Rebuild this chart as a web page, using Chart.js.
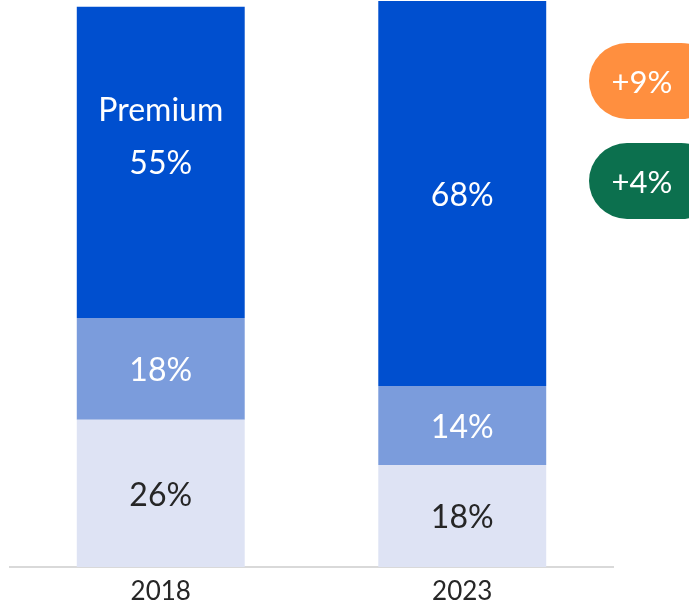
<!DOCTYPE html>
<html>
<head>
<meta charset="utf-8">
<script src="https://cdn.jsdelivr.net/npm/chart.js@4/dist/chart.umd.min.js"></script>
<style>
  html, body { margin: 0; padding: 0; background: #fff; }
  #wrap { width: 689px; height: 607px; position: relative; }
</style>
</head>
<body>
<div id="wrap"><canvas id="chart"></canvas></div>
<script>
// Dados
const years = ['2018', '2023'];
const baseShare = [26, 18];
const midShare = [18, 14];
const premiumShare = [55, 68];
const premiumLabel = 'Premium';
const badgeTexts = ['+9%', '+4%'];
const badgeColors = ['#FF8F3F', '#0C704E'];

// Plugin para rótulos dentro das barras
const segmentLabels = {
    id: 'segmentLabels',
    afterDatasetsDraw(chart) {
        const ctx = chart.ctx;
        ctx.save();
        ctx.font = '32px Lato';
        ctx.textAlign = 'center';
        ctx.textBaseline = 'middle';
        chart.data.datasets.forEach((ds, i) => {
            const meta = chart.getDatasetMeta(i);
            meta.data.forEach((bar, j) => {
                const y = (bar.y + bar.base) / 2;
                ctx.fillStyle = ds.labelColor;
                if (i === 2 && j === 0) {
                    ctx.fillText(premiumLabel, bar.x, y - 52);
                    ctx.fillText(ds.data[j] + '%', bar.x, y + 1);
                } else {
                    ctx.fillText(ds.data[j] + '%', bar.x, y + 2);
                }
            });
        });
        ctx.restore();
    }
};

// Plugin para os selos de variação
const badges = {
    id: 'badges',
    afterDraw(chart) {
        const ctx = chart.ctx;
        const tops = [43, 143];
        ctx.save();
        badgeTexts.forEach((txt, i) => {
            ctx.fillStyle = badgeColors[i];
            ctx.beginPath();
            ctx.roundRect(589, tops[i], 130, 76, 38);
            ctx.fill();
            ctx.fillStyle = '#fff';
            ctx.font = '31px Lato';
            ctx.textAlign = 'center';
            ctx.textBaseline = 'middle';
            ctx.fillText(txt, 642, tops[i] + 40);
        });
        ctx.restore();
    }
};

new Chart(document.getElementById('chart'), {
    type: 'bar',
    data: {
        labels: years,
        datasets: [
            { data: baseShare, backgroundColor: '#DEE3F4', labelColor: '#262626' },
            { data: midShare, backgroundColor: '#7B9CDC', labelColor: '#ffffff' },
            { data: premiumShare, backgroundColor: '#004FCF', labelColor: '#ffffff' }
        ]
    },
    options: {
        responsive: true,
        maintainAspectRatio: false,
        animation: false,
        layout: { padding: { left: 10, right: 76, top: 1, bottom: 0 } },
        datasets: { bar: { categoryPercentage: 1, barPercentage: 0.557 } },
        plugins: {
            legend: { display: false },
            tooltip: { enabled: false }
        },
        scales: {
            x: {
                stacked: true,
                grid: { display: false, drawTicks: false },
                border: { color: '#D9D9D9', width: 2 },
                ticks: { color: '#262626', font: { family: 'Lato', size: 26 }, padding: 9 },
                afterFit(scale) { scale.height = 40; }
            },
            y: {
                stacked: true,
                display: false,
                min: 0,
                max: 100
            }
        }
    },
    plugins: [segmentLabels, badges]
});
</script>
</body>
</html>
